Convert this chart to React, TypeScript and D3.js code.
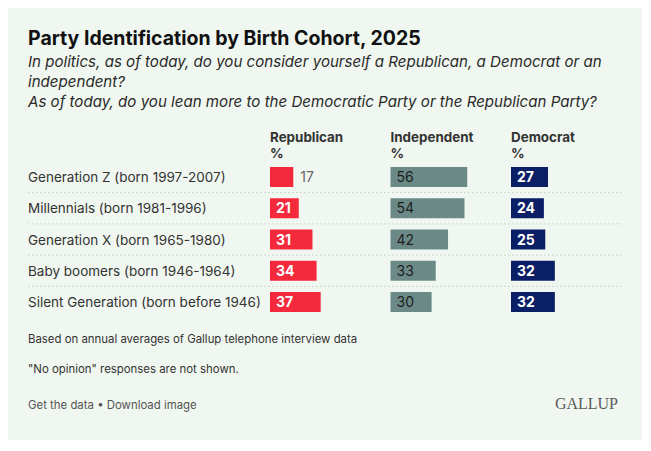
import * as d3 from 'd3'

const cohorts = [
  'Generation Z (born 1997-2007)',
  'Millennials (born 1981-1996)',
  'Generation X (born 1965-1980)',
  'Baby boomers (born 1946-1964)',
  'Silent Generation (born before 1946)',
]
const republican = [17, 21, 31, 34, 37]
const independent = [56, 54, 42, 33, 30]
const democrat = [27, 24, 25, 32, 32]

const parties = ['Republican', 'Independent', 'Democrat']
const partyColors = ['#f42a3c', '#6b8a87', '#0b1f66']
const labelColors = ['#ffffff', '#1e1e1e', '#ffffff']
const labelWeights = [700, 400, 700]

const title = 'Party Identification by Birth Cohort, 2025'
const subtitle = [
  'In politics, as of today, do you consider yourself a Republican, a Democrat or an',
  'independent?',
  'As of today, do you lean more to the Democratic Party or the Republican Party?',
]
const notes = [
  'Based on annual averages of Gallup telephone interview data',
  '"No opinion" responses are not shown.',
]

const W = 651
const H = 451
const font = 'Inter, "Noto Sans", sans-serif'

export default function App() {
  const series = [republican, independent, democrat]

  const colX = d3.scalePoint<string>().domain(parties).range([270, 511])
  const w = d3.scaleLinear().domain([0, 100]).range([0, 137])
  const rowY = d3.scalePoint<string>().domain(cohorts).range([177, 302])
  const barH = 20
  const step = rowY.step()

  return (
    <svg width={W} height={H} style={{ position: 'absolute', left: 0, top: 0 }} fontFamily={font}>
      <rect x={0} y={0} width={W} height={H} fill="#ffffff" />
      <rect x={8} y={8} width={634} height={432} fill="#f0f7f0" />

      <text x={28} y={45} fontSize={19.5} fontWeight={700} fill="#111">{title}</text>
      {subtitle.map((s, i) => (
        <text key={i} x={28} y={67 + i * 20} fontSize={15.1} fontStyle="italic" fill="#2a2a2a">{s}</text>
      ))}

      {parties.map((p, i) => (
        <g key={p} fill="#333" fontSize={13.4} fontWeight={700}>
          <text x={colX(p)} y={142}>{p}</text>
          <text x={colX(p)} y={158}>%</text>
        </g>
      ))}

      {cohorts.map((c, r) => {
        const cy = rowY(c)!
        return (
          <g key={c}>
            <text x={28} y={cy + 5} fontSize={13.5} fill="#333">{c}</text>
            {r < cohorts.length - 1 && (
              <line x1={28} x2={621} y1={cy + step / 2} y2={cy + step / 2}
                stroke="#c8ccc8" strokeDasharray="1.5,2.5" strokeWidth={1} />
            )}
            {parties.map((p, k) => {
              const v = series[k][r]
              const bw = w(v)
              const x0 = colX(p)!
              const inside = bw >= 28
              return (
                <g key={p}>
                  <rect x={x0} y={cy - barH / 2} width={bw} height={barH} fill={partyColors[k]} />
                  <text x={inside ? x0 + 6 : x0 + bw + 7} y={cy + 5} fontSize={14}
                    fontWeight={inside ? labelWeights[k] : 400}
                    fill={inside ? labelColors[k] : '#666'}>{v}</text>
                </g>
              )
            })}
          </g>
        )
      })}

      {notes.map((n, i) => (
        <text key={i} x={28} y={343 + i * 30} fontSize={11.4} fill="#333">{n}</text>
      ))}
      <text x={28} y={409} fontSize={11.4} fill="#555">Get the data • Download image</text>
      <text x={618} y={409} fontSize={16} textAnchor="end" fill="#5a5a5a"
        fontFamily='"Liberation Serif", "DejaVu Serif", serif'>GALLUP</text>
    </svg>
  )
}
